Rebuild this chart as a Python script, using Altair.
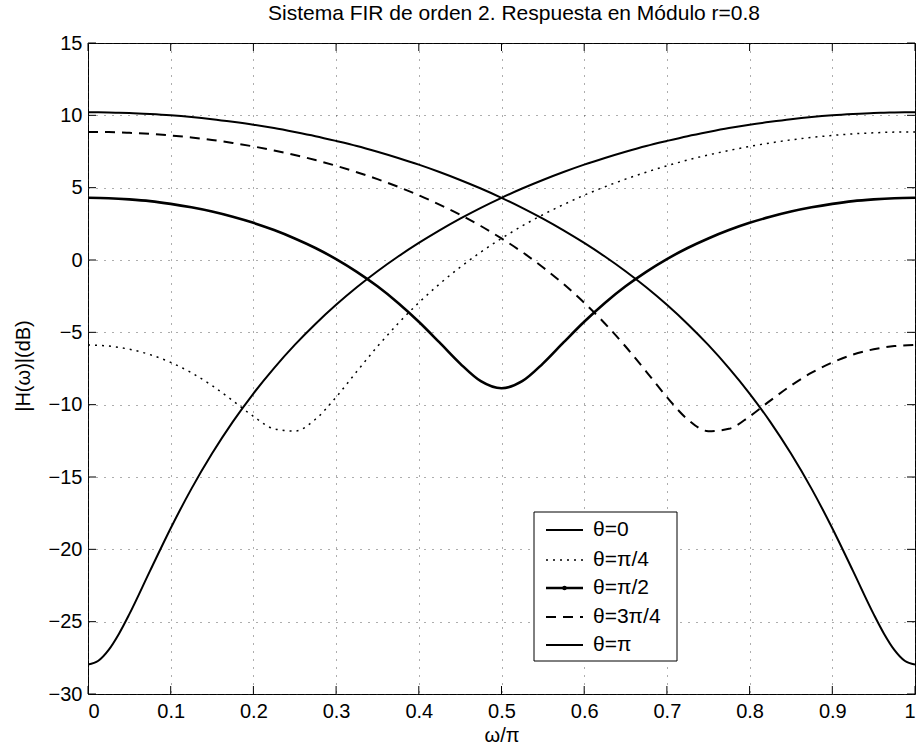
import altair as alt
import pandas as pd

# Normalised frequency w/pi
omega = [0.0, 0.025, 0.05, 0.075, 0.1, 0.125, 0.15, 0.175, 0.2, 0.225,
         0.25, 0.275, 0.3, 0.325, 0.35, 0.375, 0.4, 0.425, 0.45, 0.475,
         0.5, 0.525, 0.55, 0.575, 0.6, 0.625, 0.65, 0.675, 0.7, 0.725,
         0.75, 0.775, 0.8, 0.825, 0.85, 0.875, 0.9, 0.925, 0.95, 0.975, 1.0]
# Finer sampling at the band edges, where theta=0 and theta=pi bottom out
omega_edges = [0.0, 0.0125, 0.025, 0.0375, 0.05, 0.075, 0.1, 0.125, 0.15, 0.175, 0.2, 0.225,
               0.25, 0.275, 0.3, 0.325, 0.35, 0.375, 0.4, 0.425, 0.45, 0.475,
               0.5, 0.525, 0.55, 0.575, 0.6, 0.625, 0.65, 0.675, 0.7, 0.725,
               0.75, 0.775, 0.8, 0.825, 0.85, 0.875, 0.9, 0.925, 0.95, 0.9625, 0.975, 0.9875, 1.0]

# Magnitude response in dB for each zero angle theta (r = 0.8)
db_theta_0 = [-27.96, -27.70, -26.95, -25.83, -24.48, -21.49, -18.54, -15.82, -13.38, -11.19, -9.23, -7.47,
              -5.87, -4.42, -3.10, -1.89, -0.78, 0.24, 1.18, 2.05, 2.86, 3.61,
              4.30, 4.94, 5.53, 6.08, 6.59, 7.05, 7.48, 7.88, 8.23, 8.56,
              8.85, 9.12, 9.35, 9.55, 9.73, 9.88, 10.00, 10.09, 10.16, 10.18, 10.20, 10.21, 10.21]
db_theta_pi4 = [-5.87, -5.95, -6.17, -6.54, -7.08, -7.79, -8.68, -9.72, -10.81, -11.67,
                -11.83, -11.01, -9.48, -7.71, -5.98, -4.39, -2.95, -1.66, -0.50, 0.55,
                1.49, 2.35, 3.13, 3.83, 4.48, 5.06, 5.59, 6.07, 6.51, 6.91,
                7.26, 7.57, 7.85, 8.09, 8.30, 8.47, 8.61, 8.72, 8.79, 8.84, 8.85]
db_theta_pi2 = [4.30, 4.27, 4.19, 4.07, 3.88, 3.64, 3.35, 2.99, 2.57, 2.07,
                1.49, 0.83, 0.06, -0.82, -1.82, -2.97, -4.27, -5.70, -7.16, -8.38,
                -8.87, -8.38, -7.16, -5.70, -4.27, -2.97, -1.82, -0.82, 0.06, 0.83,
                1.49, 2.07, 2.57, 2.99, 3.35, 3.64, 3.88, 4.07, 4.19, 4.27, 4.30]
db_theta_3pi4 = [8.85, 8.84, 8.79, 8.72, 8.61, 8.47, 8.30, 8.09, 7.85, 7.57,
                 7.26, 6.91, 6.51, 6.07, 5.59, 5.06, 4.48, 3.83, 3.13, 2.35,
                 1.49, 0.55, -0.50, -1.66, -2.95, -4.39, -5.98, -7.71, -9.48, -11.01,
                 -11.83, -11.67, -10.81, -9.72, -8.68, -7.79, -7.08, -6.54, -6.17, -5.95, -5.87]
db_theta_pi = [10.21, 10.21, 10.20, 10.18, 10.16, 10.09, 10.00, 9.88, 9.73, 9.55, 9.35, 9.12,
               8.85, 8.56, 8.23, 7.88, 7.48, 7.05, 6.59, 6.08, 5.53, 4.94,
               4.30, 3.61, 2.86, 2.05, 1.18, 0.24, -0.78, -1.89, -3.10, -4.42,
               -5.87, -7.47, -9.23, -11.19, -13.38, -15.82, -18.54, -21.49, -24.48, -25.83, -26.95, -27.70, -27.96]

x_ticks = [0, 0.1, 0.2, 0.3, 0.4, 0.5, 0.6, 0.7, 0.8, 0.9, 1]
y_ticks = [-30, -25, -20, -15, -10, -5, 0, 5, 10, 15]
legend_labels = ["θ=0", "θ=π/4", "θ=π/2", "θ=3π/4", "θ=π"]
title_text = "Sistema FIR de orden 2. Respuesta en Módulo r=0.8"

FONT = "Liberation Sans"
W, H = 827, 651
TICK = 8

x_scale = alt.Scale(domain=[0, 1], nice=False, zero=False)
y_scale = alt.Scale(domain=[-30, 15], nice=False, zero=False)

x_axis = alt.Axis(values=x_ticks, format="~g", title="ω/π", grid=True,
                  ticks=False, tickSize=0, domain=False, labelPadding=7,
                  titleY=41, titleBaseline="middle")
y_axis = alt.Axis(values=y_ticks, format="d", title="|H(ω)|(dB)", grid=True,
                  ticks=False, tickSize=0, domain=False, labelPadding=6,
                  titleX=-65, titleY=H / 2 - 3, titleBaseline="middle")

X = alt.X("w:Q", scale=x_scale, axis=x_axis)
Y = alt.Y("db:Q", scale=y_scale, axis=y_axis)


def curve(xs, values, dash=None, width=2.0):
    df = pd.DataFrame({"w": xs, "db": values})
    kw = dict(color="black", strokeWidth=width, interpolate="monotone", clip=True)
    if dash:
        kw["strokeDash"] = dash
    return alt.Chart(df).mark_line(**kw).encode(x=X, y=Y)


c0 = curve(omega_edges, db_theta_0)
c1 = curve(omega, db_theta_pi4, dash=[2, 5], width=1.5)
c2 = curve(omega, db_theta_pi2, width=2.6)
c3 = curve(omega, db_theta_3pi4, dash=[10, 7])
c4 = curve(omega_edges, db_theta_pi)

# Inward tick marks on all four sides of the box
xt = pd.DataFrame({"w": x_ticks})
yt = pd.DataFrame({"db": y_ticks})
ticks_bottom = alt.Chart(xt).mark_rule(color="black", strokeWidth=1).encode(
    x=X, y=alt.value(H), y2=alt.value(H - TICK))
ticks_top = alt.Chart(xt).mark_rule(color="black", strokeWidth=1).encode(
    x=X, y=alt.value(0), y2=alt.value(TICK))
ticks_left = alt.Chart(yt).mark_rule(color="black", strokeWidth=1).encode(
    y=Y, x=alt.value(0), x2=alt.value(TICK))
ticks_right = alt.Chart(yt).mark_rule(color="black", strokeWidth=1).encode(
    y=Y, x=alt.value(W - TICK), x2=alt.value(W))

# Title drawn as a text mark above the box
title = alt.Chart(pd.DataFrame({"t": [title_text]})).mark_text(
    align="center", baseline="alphabetic", font=FONT, fontSize=21, color="black").encode(
    x=alt.value(426), y=alt.value(-23), text="t:N")

# Legend box
LX0, LX1, LY0, LY1 = 446, 589, 469, 618
box = alt.Chart(pd.DataFrame({"k": [0]})).mark_rect(
    fill="white", stroke="black", strokeWidth=1).encode(
    x=alt.value(LX0), x2=alt.value(LX1), y=alt.value(LY0), y2=alt.value(LY1))

legend_styles = [
    dict(width=2.0, dash=None),
    dict(width=1.5, dash=[2, 5]),
    dict(width=2.6, dash=None),
    dict(width=2.0, dash=[10, 7]),
    dict(width=2.0, dash=None),
]
row_y = [487, 517, 545, 574, 602]
legend_layers = []
for label, style, yy in zip(legend_labels, legend_styles, row_y):
    df = pd.DataFrame({"label": [label]})
    kw = dict(color="black", strokeWidth=style["width"])
    if style["dash"]:
        kw["strokeDash"] = style["dash"]
    legend_layers.append(alt.Chart(df).mark_rule(**kw).encode(
        x=alt.value(458), x2=alt.value(495), y=alt.value(yy)))
    legend_layers.append(alt.Chart(df).mark_text(
        align="left", baseline="middle", font=FONT, fontSize=21, color="black").encode(
        x=alt.value(505), y=alt.value(yy), text="label:N"))
# dot marker on the theta=pi/2 sample
legend_layers.append(alt.Chart(pd.DataFrame({"k": [0]})).mark_point(
    filled=True, color="black", size=20, opacity=1).encode(
    x=alt.value(476.5), y=alt.value(row_y[2])))

chart = alt.layer(
    c0, c1, c2, c3, c4,
    ticks_bottom, ticks_top, ticks_left, ticks_right,
    box, *legend_layers, title,
).properties(
    width=W,
    height=H,
    autosize=alt.AutoSizeParams(type="none"),
    padding={"left": 88, "top": 43, "right": 7, "bottom": 56},
).configure_view(
    stroke="black", strokeWidth=1
).configure_axis(
    labelFont=FONT, labelFontSize=20, labelColor="black",
    titleFont=FONT, titleFontSize=20, titleFontWeight="normal", titleColor="black",
    gridColor="#333333", gridWidth=1, gridDash=[1, 7], gridOpacity=0.8,
)

chart.save("out.html", embed_options={"renderer": "svg", "actions": False})
